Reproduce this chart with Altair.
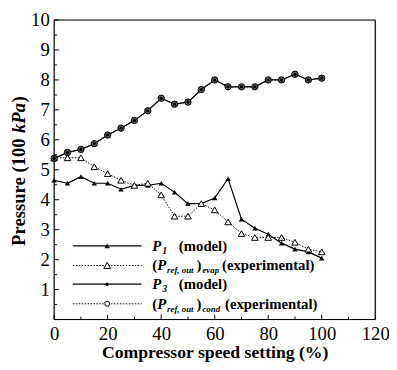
import altair as alt
import pandas as pd

# ---------------- data ----------------
speed = list(range(0, 101, 5))
p1_model = [4.65, 4.55, 4.77, 4.55, 4.55, 4.35, 4.48, 4.48, 4.55, 4.25, 3.87,
            3.87, 4.06, 4.70, 3.35, 3.05, 2.85, 2.55, 2.35, 2.26, 2.05]
p_evap_exp = [5.40, 5.40, 5.40, 5.10, 4.87, 4.65, 4.48, 4.55, 4.16, 3.45, 3.45,
              3.87, 3.66, 3.26, 2.87, 2.74, 2.74, 2.74, 2.58, 2.35, 2.26]
p3_model = [5.38, 5.58, 5.68, 5.87, 6.16, 6.39, 6.65, 6.97, 7.39, 7.19, 7.26,
            7.68, 8.00, 7.77, 7.77, 7.77, 8.00, 8.00, 8.19, 8.00, 8.06]
p_cond_exp = [5.38, 5.58, 5.68, 5.87, 6.16, 6.39, 6.65, 6.97, 7.39, 7.19, 7.26,
              7.68, 8.00, 7.77, 7.77, 7.77, 8.00, 8.00, 8.19, 8.00, 8.06]

x_labels = [0, 20, 40, 60, 80, 100, 120]
x_minor = [10, 30, 50, 70, 90, 110]
y_labels = [1, 2, 3, 4, 5, 6, 7, 8, 9, 10]
y_major = [0, 1, 2, 3, 4, 5, 6, 7, 8, 9, 10]
y_minor = [0.5, 1.5, 2.5, 3.5, 4.5, 5.5, 6.5, 7.5, 8.5, 9.5]

FONT = "Liberation Serif"
W, H = 327, 305

xs = alt.Scale(domain=[0, 120], nice=False, zero=False)
ys = alt.Scale(domain=[0, 10], nice=False)

XAX = alt.Axis(values=x_labels, title="Compressor speed setting (%)",
               grid=False, ticks=False, domain=False, labelFlush=False,
               labelFont=FONT, labelFontSize=19, labelColor="black",
               labelPadding=5, titleFont=FONT, titleFontSize=18,
               titleFontWeight="bold", titleColor="black", titlePadding=1)
YAX = alt.Axis(values=y_labels, title=None, grid=False, ticks=False,
               domain=False, labelFlush=False, labelFont=FONT, labelFontSize=19,
               labelColor="black", labelPadding=5)
X = alt.X("speed:Q", scale=xs, axis=XAX)
Y = alt.Y("p:Q", scale=ys, axis=YAX)


def sdf(vals):
    return pd.DataFrame({"speed": speed, "p": vals})


layers = []

# P1 model line + filled triangles
layers.append(alt.Chart(sdf(p1_model)).mark_line(color="black", strokeWidth=1.2)
              .encode(x=X, y=Y))
layers.append(alt.Chart(sdf(p1_model)).mark_point(shape="triangle-up", filled=True,
                                                  color="black", size=30, opacity=1)
              .encode(x=X, y=Y))
# evap experimental dotted + open triangles
layers.append(alt.Chart(sdf(p_evap_exp)).mark_line(color="black", strokeWidth=1,
                                                   strokeDash=[1.5, 1.5])
              .encode(x=X, y=Y))
layers.append(alt.Chart(sdf(p_evap_exp)).mark_point(shape="triangle-up", filled=True,
                                                    fill="white", stroke="black",
                                                    strokeWidth=1, size=45, opacity=1)
              .encode(x=X, y=Y))
# cond experimental dotted line, P3 model line, circles
layers.append(alt.Chart(sdf(p_cond_exp)).mark_line(color="black", strokeWidth=1,
                                                   strokeDash=[1.5, 1.5])
              .encode(x=X, y=Y))
layers.append(alt.Chart(sdf(p3_model)).mark_line(color="black", strokeWidth=1.2)
              .encode(x=X, y=Y))
layers.append(alt.Chart(sdf(p_cond_exp)).mark_point(shape="circle", filled=True,
                                                    fill="#5a5a5a", stroke="black",
                                                    strokeWidth=1, size=42, opacity=1)
              .encode(x=X, y=Y))
layers.append(alt.Chart(sdf(p3_model)).mark_point(shape="circle", filled=True,
                                                  color="black", size=10, opacity=1)
              .encode(x=X, y=Y))


# inward ticks
def xt(vals, ln):
    return alt.Chart(pd.DataFrame({"speed": vals})).mark_rule(color="black", strokeWidth=1).encode(
        x=X, y=alt.value(H), y2=alt.value(H - ln))


def yt(vals, ln):
    return alt.Chart(pd.DataFrame({"p": vals})).mark_rule(color="black", strokeWidth=1).encode(
        y=Y, x=alt.value(0), x2=alt.value(ln))


layers += [xt(x_labels, 5), xt(x_minor, 3), yt(y_major, 5), yt(y_minor, 3)]

one = pd.DataFrame({"a": [0]})

# frame
for (x1, x2, y1, y2) in [(0, W, 0, 0), (0, W, H, H), (0, 0, 0, H), (W, W, 0, H)]:
    layers.append(alt.Chart(one).mark_rule(color="black", strokeWidth=1.2).encode(
        x=alt.value(x1), x2=alt.value(x2), y=alt.value(y1), y2=alt.value(y2)))


def txt(s, x, y, size=15, italic=False, bold=True, angle=0, align="left"):
    return alt.Chart(one).mark_text(text=s, font=FONT, fontSize=size,
                                    fontStyle="italic" if italic else "normal",
                                    fontWeight="bold" if bold else "normal",
                                    align=align, baseline="middle", angle=angle,
                                    color="black").encode(x=alt.value(x), y=alt.value(y))


# legend
rows = [230, 250, 269, 289]
lx0, lx1, lmx = 19, 89, 54
for i, y in enumerate(rows):
    kw = dict(color="black", strokeWidth=1.2 if i % 2 == 0 else 1)
    if i % 2 == 1:
        kw["strokeDash"] = [1.5, 1.5]
    layers.append(alt.Chart(one).mark_rule(**kw).encode(
        x=alt.value(lx0), x2=alt.value(lx1), y=alt.value(y)))

layers.append(alt.Chart(one).mark_point(shape="triangle-up", filled=True, color="black", size=30, opacity=1)
              .encode(x=alt.value(lmx), y=alt.value(rows[0])))
layers.append(alt.Chart(one).mark_point(shape="triangle-up", filled=True, fill="white",
                                        stroke="black", strokeWidth=1, size=50, opacity=1)
              .encode(x=alt.value(lmx), y=alt.value(rows[1])))
layers.append(alt.Chart(one).mark_point(shape="circle", filled=True, color="black", size=12, opacity=1)
              .encode(x=alt.value(lmx), y=alt.value(rows[2])))
layers.append(alt.Chart(one).mark_point(shape="circle", filled=True, fill="white",
                                        stroke="black", strokeWidth=1, size=25, opacity=1)
              .encode(x=alt.value(lmx), y=alt.value(rows[3])))

tx = 100
layers += [txt("P", tx, rows[0], italic=True), txt("1", tx + 10, rows[0] + 5, size=10, italic=True),
           txt("(model)", tx + 27, rows[0])]
layers += [txt("(", tx, rows[1]), txt("P", tx + 5, rows[1], italic=True),
           txt("ref, out", tx + 15, rows[1] + 5, size=9, italic=True),
           txt(")", tx + 45, rows[1]), txt("evap", tx + 51, rows[1] + 5, size=9, italic=True),
           txt("(experimental)", tx + 71, rows[1])]
layers += [txt("P", tx, rows[2], italic=True), txt("3", tx + 10, rows[2] + 5, size=10, italic=True),
           txt("(model)", tx + 27, rows[2])]
layers += [txt("(", tx, rows[3]), txt("P", tx + 5, rows[3], italic=True),
           txt("ref, out", tx + 15, rows[3] + 5, size=9, italic=True),
           txt(")", tx + 45, rows[3]), txt("cond", tx + 51, rows[3] + 5, size=9, italic=True),
           txt("(experimental)", tx + 74, rows[3])]

# y title (rotated, with italic kPa)
layers += [txt("Pressure (100 ", -36, 230, size=19, angle=270),
           txt("kPa", -36, 115, size=19, italic=True, angle=270),
           txt(")", -36, 84, size=19, angle=270)]

chart = alt.layer(*layers).properties(
    width=W, height=H,
    autosize=alt.AutoSizeParams(type="none"),
    padding={"left": 47, "top": 9, "right": 14, "bottom": 40},
).configure_view(stroke=None).configure(background="white")

chart.save("out.html", embed_options={"renderer": "svg", "actions": False})
